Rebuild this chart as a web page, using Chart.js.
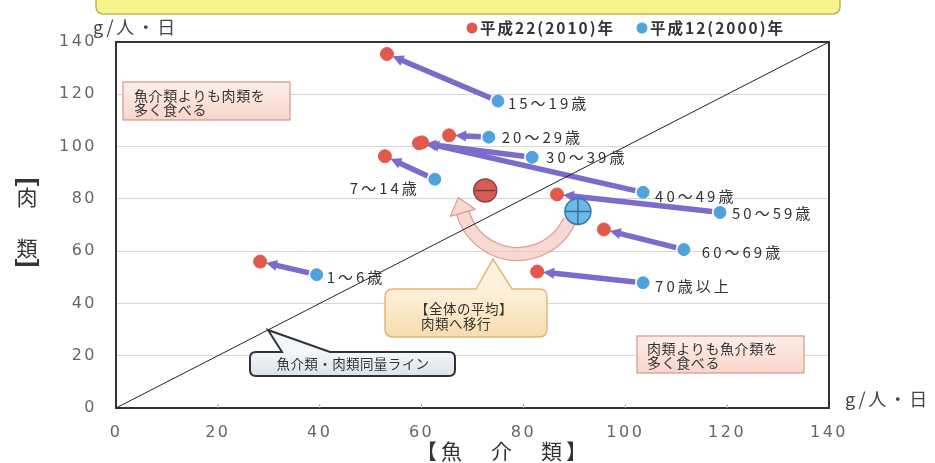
<!DOCTYPE html>
<html lang="ja">
<head>
<meta charset="utf-8">
<script src="https://cdn.jsdelivr.net/npm/chart.js@4.4.1/dist/chart.umd.min.js"></script>
<style>
  html, body { margin: 0; padding: 0; background: #fff; }
  canvas { display: block; }
</style>
</head>
<body>
<canvas id="canvas" width="935" height="463"></canvas>
<script>
// 年齢階級別 魚介類・肉類摂取量 (g/人・日)
const ageGroups = ['1～6歳', '7～14歳', '15～19歳', '20～29歳', '30～39歳', '40～49歳', '50～59歳', '60～69歳', '70歳以上'];
const fish2000 = [39.4, 62.6, 75.0, 73.2, 81.7, 103.5, 118.6, 111.5, 103.5];
const meat2000 = [51.0, 87.5, 117.4, 103.6, 95.9, 82.5, 74.8, 60.6, 47.9];
const fish2010 = [28.3, 52.8, 53.2, 65.4, 59.5, 60.1, 86.6, 95.8, 82.7];
const meat2010 = [56.0, 96.3, 135.4, 104.3, 101.3, 101.6, 81.7, 68.3, 52.2];
// 全体の平均
const avgFish2000 = 90.7, avgMeat2000 = 75.2;
const avgFish2010 = 72.5, avgMeat2010 = 83.2;
const axisTicks = [0, 20, 40, 60, 80, 100, 120, 140];
const equalLine = [0, 140];

const RED = '#e2594b';
const BLUE = '#4fa3dc';
const PURPLE = '#7b6bca';
const JP = '"Noto Sans CJK JP", "Noto Sans", sans-serif';

const pts = (xs, ys) => xs.map((x, i) => ({ x: x, y: ys[i] }));

// age label placement: dx/dy from the 2000 point, align
const labelPlace = {
  '1～6歳': [10, 3, 'left'],
  '7～14歳': [-15, 9, 'right'],
  '15～19歳': [10, 2, 'left'],
  '20～29歳': [13, 0, 'left'],
  '30～39歳': [14, 0, 'left'],
  '40～49歳': [12, 4, 'left'],
  '50～59歳': [12, 1, 'left'],
  '60～69歳': [18, 3, 'left'],
  '70歳以上': [12, 4, 'left']
};

function roundRect(ctx, x, y, w, h, r) {
  ctx.beginPath();
  ctx.moveTo(x + r, y);
  ctx.lineTo(x + w - r, y);
  ctx.quadraticCurveTo(x + w, y, x + w, y + r);
  ctx.lineTo(x + w, y + h - r);
  ctx.quadraticCurveTo(x + w, y + h, x + w - r, y + h);
  ctx.lineTo(x + r, y + h);
  ctx.quadraticCurveTo(x, y + h, x, y + h - r);
  ctx.lineTo(x, y + r);
  ctx.quadraticCurveTo(x, y, x + r, y);
  ctx.closePath();
}

// callout box with a pointer from the top edge
function callout(ctx, x, y, w, h, r, tip, base1, base2) {
  ctx.beginPath();
  ctx.moveTo(x + r, y);
  ctx.lineTo(base1, y);
  ctx.lineTo(tip[0], tip[1]);
  ctx.lineTo(base2, y);
  ctx.lineTo(x + w - r, y);
  ctx.quadraticCurveTo(x + w, y, x + w, y + r);
  ctx.lineTo(x + w, y + h - r);
  ctx.quadraticCurveTo(x + w, y + h, x + w - r, y + h);
  ctx.lineTo(x + r, y + h);
  ctx.quadraticCurveTo(x, y + h, x, y + h - r);
  ctx.lineTo(x, y + r);
  ctx.quadraticCurveTo(x, y, x + r, y);
  ctx.closePath();
}

function arrowHead(ctx, tx, ty, ux, uy, len, half) {
  ctx.beginPath();
  ctx.moveTo(tx, ty);
  ctx.lineTo(tx - ux * len - uy * half, ty - uy * len + ux * half);
  ctx.lineTo(tx - ux * len + uy * half, ty - uy * len - ux * half);
  ctx.closePath();
  ctx.fill();
}

// vertical-text bracket (open = true draws the top one)
function bracket(ctx, cx, y, open) {
  const w = 24;
  ctx.fillRect(cx - w / 2, open ? y : y - 3.5, w, 3.5);
  ctx.fillRect(cx - w / 2, open ? y : y - 7, 2, 7);
  ctx.fillRect(cx + w / 2 - 2, open ? y : y - 7, 2, 7);
}

const decorations = {
  id: 'decorations',
  beforeDraw(chart) {
    const ctx = chart.ctx;
    ctx.save();
    // yellow banner at the very top
    roundRect(ctx, 96, -12, 744, 26, 8);
    ctx.fillStyle = '#f7f48e';
    ctx.fill();
    ctx.strokeStyle = '#bdb85e';
    ctx.lineWidth = 1.5;
    ctx.stroke();

    // unit labels
    ctx.fillStyle = '#444';
    ctx.font = '18px ' + JP;
    ctx.textBaseline = 'middle';
    ctx.textAlign = 'left';
    ctx.letterSpacing = '2.5px';
    ctx.fillText('g/人・日', 93, 27);
    ctx.fillText('g/人・日', 845, 399);

    // legend
    ctx.font = 'bold 15.5px ' + JP;
    ctx.letterSpacing = '2px';
    ctx.fillStyle = RED;
    ctx.beginPath(); ctx.arc(472, 28, 5.5, 0, Math.PI * 2); ctx.fill();
    ctx.fillStyle = '#333';
    ctx.fillText('平成22(2010)年', 480, 28);
    ctx.fillStyle = BLUE;
    ctx.beginPath(); ctx.arc(642, 28, 5.5, 0, Math.PI * 2); ctx.fill();
    ctx.fillStyle = '#333';
    ctx.fillText('平成12(2000)年', 650, 28);

    // axis titles
    ctx.letterSpacing = '0px';
    ctx.font = '21px ' + JP;
    ctx.textAlign = 'center';
    ctx.fillStyle = '#333';
    bracket(ctx, 27, 179, true);
    ctx.fillText('肉', 27, 197);
    ctx.fillText('類', 27, 248);
    bracket(ctx, 27, 266, false);
    ctx.textAlign = 'left';
    ctx.letterSpacing = '4px';
    ctx.fillText('【魚　介　類】', 416, 451);
    ctx.restore();
    // wider spacing for the scale tick labels drawn next
    ctx.letterSpacing = '2.5px';
  },
  beforeDatasetsDraw(chart) {
    const ctx = chart.ctx;
    ctx.letterSpacing = '0px';
    const xs = chart.scales.x, ys = chart.scales.y;
    const a = chart.chartArea;
    ctx.save();
    // purple arrows from 2000 to 2010
    ctx.strokeStyle = PURPLE;
    ctx.fillStyle = PURPLE;
    ctx.lineWidth = 5.5;
    ctx.lineCap = 'butt';
    ageGroups.forEach((g, i) => {
      const x0 = xs.getPixelForValue(fish2000[i]), y0 = ys.getPixelForValue(meat2000[i]);
      const x1 = xs.getPixelForValue(fish2010[i]), y1 = ys.getPixelForValue(meat2010[i]);
      const d = Math.hypot(x1 - x0, y1 - y0);
      const ux = (x1 - x0) / d, uy = (y1 - y0) / d;
      const sx = x0 + ux * 8, sy = y0 + uy * 8;
      const tx = x1 - ux * 6, ty = y1 - uy * 6;
      const hl = Math.min(11, d * 0.4);
      ctx.beginPath();
      ctx.moveTo(sx, sy);
      ctx.lineTo(tx - ux * hl * 0.8, ty - uy * hl * 0.8);
      ctx.stroke();
      arrowHead(ctx, tx, ty, ux, uy, hl, 5.5);
    });

    // curved arrow between the two averages
    const bx = xs.getPixelForValue(avgFish2000), by = ys.getPixelForValue(avgMeat2000);
    const rx = xs.getPixelForValue(avgFish2010), ry = ys.getPixelForValue(avgMeat2010);
    const cx = (bx + rx) / 2 - 14, cy = (by + ry) / 2 - 4;
    const R = 57, t0 = 0.42, t1 = 2.86;
    ctx.lineWidth = 13;
    ctx.strokeStyle = 'rgba(243, 190, 180, 0.6)';
    ctx.beginPath(); ctx.arc(cx, cy, R, t0, t1); ctx.stroke();
    ctx.lineWidth = 1.2;
    ctx.strokeStyle = 'rgba(215, 130, 120, 0.75)';
    ctx.beginPath(); ctx.arc(cx, cy, R + 6.5, t0, t1); ctx.stroke();
    ctx.beginPath(); ctx.arc(cx, cy, R - 6.5, t0, t1); ctx.stroke();
    const ex = cx + R * Math.cos(t1), ey = cy + R * Math.sin(t1);
    const tux = -Math.sin(t1), tuy = Math.cos(t1);
    const hx = ex + tux * 16, hy = ey + tuy * 16;
    ctx.fillStyle = 'rgba(243, 190, 180, 0.6)';
    ctx.beginPath();
    ctx.moveTo(hx, hy);
    ctx.lineTo(ex + tuy * 13, ey - tux * 13);
    ctx.lineTo(ex - tuy * 13, ey + tux * 13);
    ctx.closePath();
    ctx.fill();
    ctx.stroke();

    // plot frame
    ctx.strokeStyle = '#333';
    ctx.lineWidth = 2;
    ctx.strokeRect(a.left, a.top, a.right - a.left, a.bottom - a.top);
    // small ticks on the bottom edge
    ctx.strokeStyle = '#aaa';
    ctx.lineWidth = 1;
    axisTicks.slice(1, -1).forEach(v => {
      const px = xs.getPixelForValue(v);
      ctx.beginPath(); ctx.moveTo(px, a.bottom); ctx.lineTo(px, a.bottom - 4); ctx.stroke();
    });
    ctx.restore();
  },
  afterDatasetsDraw(chart) {
    const ctx = chart.ctx;
    const xs = chart.scales.x, ys = chart.scales.y;
    ctx.save();
    // age labels beside the 2000 points
    ctx.font = '15px ' + JP;
    ctx.fillStyle = '#333';
    ctx.textBaseline = 'middle';
    ctx.letterSpacing = '3px';
    ageGroups.forEach((g, i) => {
      const p = labelPlace[g];
      ctx.textAlign = p[2];
      ctx.fillText(g, xs.getPixelForValue(fish2000[i]) + p[0], ys.getPixelForValue(meat2000[i]) + p[1]);
    });

    // explanation boxes
    ctx.font = '14px ' + JP;
    ctx.letterSpacing = '0.6px';
    ctx.textAlign = 'left';
    let g = ctx.createLinearGradient(0, 82, 0, 120);
    g.addColorStop(0, '#fdeee8'); g.addColorStop(1, '#f7d6cc');
    ctx.fillStyle = g;
    ctx.fillRect(123, 82, 167, 38);
    ctx.strokeStyle = '#d9958a';
    ctx.lineWidth = 1.2;
    ctx.strokeRect(123, 82, 167, 38);
    ctx.fillStyle = '#333';
    ctx.fillText('魚介類よりも肉類を', 134, 96);
    ctx.fillText('多く食べる', 134, 110);

    g = ctx.createLinearGradient(0, 336, 0, 373);
    g.addColorStop(0, '#fdeee8'); g.addColorStop(1, '#f7d6cc');
    ctx.fillStyle = g;
    ctx.fillRect(637, 336, 167, 37);
    ctx.strokeStyle = '#d9958a';
    ctx.strokeRect(637, 336, 167, 37);
    ctx.fillStyle = '#333';
    ctx.fillText('肉類よりも魚介類を', 647, 349);
    ctx.fillText('多く食べる', 647, 363);

    // equal line callout
    callout(ctx, 250, 352, 205, 24, 6, [268, 330], 282, 330);
    g = ctx.createLinearGradient(0, 352, 0, 376);
    g.addColorStop(0, '#f4f6f9'); g.addColorStop(1, '#dde3ea');
    ctx.fillStyle = g;
    ctx.fill();
    ctx.strokeStyle = '#2f3338';
    ctx.lineWidth = 2;
    ctx.stroke();
    ctx.fillStyle = '#333';
    ctx.font = '13.5px ' + JP;
    ctx.letterSpacing = '0.4px';
    ctx.textAlign = 'center';
    ctx.fillText('魚介類・肉類同量ライン', 353, 364);

    // average callout
    callout(ctx, 385, 289, 162, 48, 8, [493, 259], 476, 512);
    g = ctx.createLinearGradient(0, 289, 0, 337);
    g.addColorStop(0, '#fdf1dc'); g.addColorStop(1, '#f8dcae');
    ctx.fillStyle = g;
    ctx.fill();
    ctx.strokeStyle = '#e4b776';
    ctx.lineWidth = 1.5;
    ctx.stroke();
    ctx.fillStyle = '#333';
    ctx.textAlign = 'left';
    ctx.letterSpacing = '0.5px';
    ctx.fillText('【全体の平均】', 415, 309);
    ctx.fillText('肉類へ移行', 421, 324);
    ctx.restore();
  }
};

const tickFont = { family: '"DejaVu Sans", sans-serif', size: 16 };

new Chart(document.getElementById('canvas'), {
  type: 'scatter',
  data: {
    datasets: [
      {
        type: 'line',
        data: pts(equalLine, equalLine),
        borderColor: '#222',
        borderWidth: 1,
        pointRadius: 0,
        order: 5
      },
      {
        label: '平成22(2010)年',
        data: pts(fish2010, meat2010),
        backgroundColor: RED,
        borderColor: RED,
        pointRadius: 6.5,
        order: 2
      },
      {
        label: '平成12(2000)年',
        data: pts(fish2000, meat2000),
        backgroundColor: BLUE,
        borderColor: BLUE,
        pointRadius: 6,
        order: 2
      },
      {
        data: [{ x: avgFish2010, y: avgMeat2010 }],
        backgroundColor: '#d65d55',
        borderColor: '#8e4542',
        borderWidth: 1.5,
        pointRadius: 11.5,
        order: 1
      },
      {
        data: [{ x: avgFish2010, y: avgMeat2010 }],
        pointStyle: 'line',
        borderColor: '#7a3a3a',
        borderWidth: 1.5,
        pointRadius: 10,
        order: 0
      },
      {
        data: [{ x: avgFish2000, y: avgMeat2000 }],
        backgroundColor: '#6bb9e8',
        borderColor: '#3b78aa',
        borderWidth: 1.5,
        pointRadius: 13,
        order: 1
      },
      {
        data: [{ x: avgFish2000, y: avgMeat2000 }],
        pointStyle: 'cross',
        borderColor: '#3b6e9c',
        borderWidth: 1.5,
        pointRadius: 13,
        order: 0
      }
    ]
  },
  options: {
    responsive: false,
    animation: false,
    events: [],
    layout: { padding: { top: 42, right: 106, left: 0, bottom: 0 } },
    scales: {
      x: {
        type: 'linear',
        min: 0,
        max: 140,
        afterBuildTicks: s => { s.ticks = axisTicks.map(v => ({ value: v })); },
        afterFit: s => { s.height = 55; },
        grid: { display: false, drawTicks: false },
        border: { display: false },
        ticks: { padding: 15, color: '#666', font: tickFont }
      },
      y: {
        type: 'linear',
        min: 0,
        max: 140,
        afterBuildTicks: s => { s.ticks = axisTicks.map(v => ({ value: v })); },
        afterFit: s => { s.width = 116; },
        grid: { color: '#d6d6d6', lineWidth: 1, drawTicks: false },
        border: { display: false },
        ticks: { padding: 19, color: '#666', font: tickFont }
      }
    },
    plugins: {
      legend: { display: false },
      tooltip: { enabled: false }
    }
  },
  plugins: [decorations]
});
</script>
</body>
</html>
